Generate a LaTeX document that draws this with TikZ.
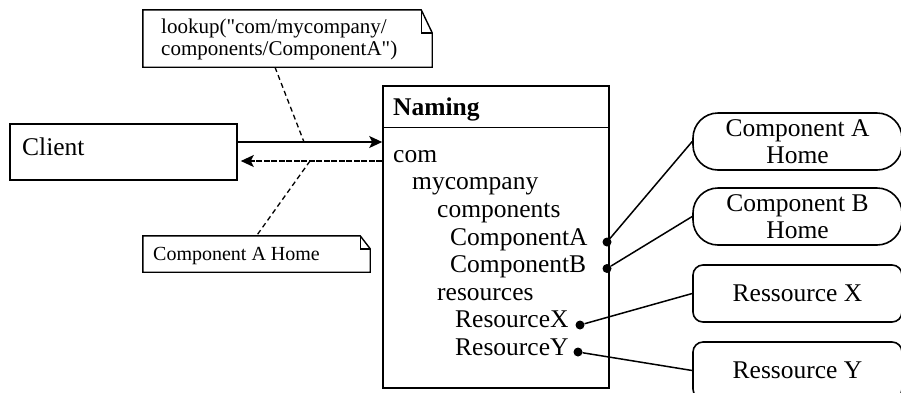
\documentclass[tikz,border=0pt]{standalone}
\usepackage{fontspec}
\setmainfont{Liberation Serif}
\newfontfamily\notefont{Liberation Serif}[Ligatures=TeXOff]
\usetikzlibrary{arrows.meta}

\begin{document}
\begin{tikzpicture}[x=1pt,y=-1pt,
  frame/.style={draw, line width=1.6pt, inner sep=0pt},
  label/.style={anchor=base west, inner sep=0pt, font=\fontsize{25.5}{28}\selectfont},
  notetext/.style={anchor=base west, inner sep=0pt},
  notearea/.style={inner sep=0pt},
  noteline/.style={line width=1.4pt, line join=miter},
  notelink/.style={line width=1.3pt, dash pattern=on 5pt off 3.5pt},
  dot/.style={circle, fill, inner sep=0pt, minimum size=9pt},
  link/.style={line width=1.5pt},
  call/.style={line width=1.6pt, -{Stealth[length=13pt,width=12pt,inset=3pt]}},
  reply/.style={line width=1.6pt, dash pattern=on 6pt off 1.5pt, -{Stealth[length=13pt,width=12pt,inset=3pt]}, shorten >=3pt},
  home/.style={draw, line width=1.6pt, rounded corners=25pt, minimum width=209pt,
    minimum height=57pt, inner sep=0pt, align=center, font=\fontsize{25.5}{26.5}\selectfont},
  resbox/.style={draw, line width=1.6pt, rounded corners=10pt, minimum width=209pt,
    minimum height=57pt, inner sep=0pt, font=\fontsize{25.5}{26}\selectfont}
]
\clip (0,0) rectangle (901,392);
\fill[white] (0,0) rectangle (901,392);

% client
\node[frame, minimum width=227pt, minimum height=56pt] (client) at (123.5,152) {};
\node[label] (clienttxt) at (22,155) {Client};

% naming service box
\node[frame, minimum width=226pt, minimum height=302pt] (naming) at (496,237) {};
\draw[line width=1.6pt] (naming.west |- 0,127.5) -- (naming.east |- 0,127.5);
\node[label, font=\fontsize{25.5}{28}\selectfont\bfseries] (title) at (393,115) {Naming};
\node[label] (com)  at (393,162)   {com};
\node[label] (myco) at (412,189.6) {mycompany};
\node[label] (comp) at (437,217)   {components};
\node[label] (ca)   at (450,245)   {ComponentA};
\node[label] (cb)   at (450,272.5) {ComponentB};
\node[label] (res)  at (437,300)   {resources};
\node[label] (rx)   at (455,327.6) {ResourceX};
\node[label] (ry)   at (455,355)   {ResourceY};

% binding ends
\node[dot] (dA) at (607,242) {};
\node[dot] (dB) at (607,268.5) {};
\node[dot] (dX) at (580,325) {};
\node[dot] (dY) at (578,352) {};

% bound objects
\node[home] (homeA) at (797.5,141.5) {Component A\\Home};
\node[home] (homeB) at (797.5,216.5) {Component B\\Home};
\node[resbox] (resX) at (797.5,293.5) {Ressource X};
\node[resbox] (resY) at (797.5,370.5) {Ressource Y};

\draw[link] (dA) -- (homeA.west);
\draw[link] (dB) -- (homeB.west);
\draw[link] (dX) -- (resX.west);
\draw[link] (dY) -- (resY.west);

% lookup call and its reply
\draw[call] (client.east |- 0,142) -- (naming.west |- 0,142);
\draw[reply] (naming.west |- 0,161) -- (client.east |- 0,161);
\coordinate (m1) at (304,142);
\coordinate (m2) at (310,161);

% notes
\node[notearea, minimum width=289pt, minimum height=57pt] (note1) at (287.5,38.5) {};
\draw[noteline] (note1.north west) -- ([xshift=-11pt]note1.north east)
  -- ([yshift=-23pt]note1.north east) -- (note1.south east) -- (note1.south west) -- cycle;
\draw[noteline] ([xshift=-11pt]note1.north east) -- ([xshift=-11pt,yshift=-23pt]note1.north east)
  -- ([yshift=-23pt]note1.north east);
\node[notetext, font=\notefont\fontsize{21}{22}\selectfont] (n1a) at (161,33) {lookup("com/mycompany/};
\node[notetext, font=\notefont\fontsize{21}{22}\selectfont] (n1b) at (161,55) {components/ComponentA")};

\node[notearea, minimum width=227pt, minimum height=36pt] (note2) at (256.5,254) {};
\draw[noteline] (note2.north west) -- ([xshift=-10pt]note2.north east)
  -- ([yshift=-13pt]note2.north east) -- (note2.south east) -- (note2.south west) -- cycle;
\draw[noteline] ([xshift=-10pt]note2.north east) -- ([xshift=-10pt,yshift=-13pt]note2.north east)
  -- ([yshift=-13pt]note2.north east);
\node[notetext, font=\notefont\fontsize{20}{22}\selectfont] (n2) at (153,260) {Component A Home};

\draw[notelink] ([xshift=-12.5pt]note1.south) -- (m1);
\draw[notelink] (m2) -- (note2.north);
\end{tikzpicture}
\end{document}
